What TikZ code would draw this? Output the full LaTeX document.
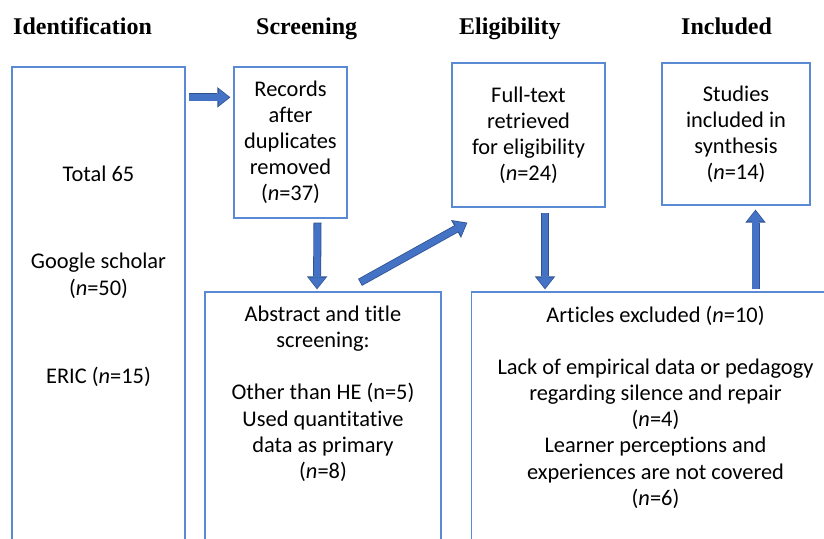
\documentclass[tikz,border=0pt]{standalone}
\usepackage{fontspec}
\setmainfont[Ligatures=NoCommon]{Carlito}
\newfontfamily\headfont{Liberation Serif}
\usepackage{xcolor}
\usetikzlibrary{arrows.meta,positioning}

\definecolor{boxblue}{RGB}{91,138,212}
\definecolor{arrowfill}{RGB}{68,114,196}
\definecolor{arrowedge}{RGB}{47,82,143}

\begin{document}
\begin{tikzpicture}[
        x=1pt, y=-1pt,
        box/.style={rectangle, draw=boxblue, line width=1.3pt, inner sep=0pt, align=center, font=\fontsize{22.4}{26.1}\selectfont},
        head/.style={anchor=base west, inner sep=0pt, font=\headfont\bfseries\fontsize{24}{28}\selectfont},
        txt/.style={inner sep=0pt, align=center, font=\fontsize{22.4}{26.1}\selectfont},
        arrow/.style={draw=arrowfill, line width=6.4pt, shorten >=1.3pt, shorten <=0.8pt,
            -{Triangle[length=10.5pt,width=17pt,line width=0pt]},
            preaction={draw=arrowedge, line width=8pt, shorten >=0pt, shorten <=0pt,
            -{Triangle[length=13pt,width=20.5pt,line width=0pt]}}}
    ]
    \path[use as bounding box, clip] (0,0) rectangle (824,538);

    % Stage headings
    \node[head] (h_ident) at (13,34) {Identification};
    \node[head] (h_screen) at (256,34) {Screening};
    \node[head] (h_elig) at (459,34) {Eligibility};
    \node[head] (h_incl) at (681,34) {Included};

    % Identification
    \node[box, minimum width=173pt, minimum height=493pt] (ident) at (98.5,313.5) {};
    \node[txt, anchor=base] (total) at (98.5,181) {Total 65};
    \node[txt, anchor=base] (google) at (98.5,268) {Google scholar};
    \node[txt, anchor=base] (google_n) at (98.5,295.5) {(\textit{n}=50)};
    \node[txt, anchor=base] (eric) at (98.5,383) {ERIC (\textit{n}=15)};

    % Screening
    \node[box, minimum width=113pt, minimum height=151pt] (recs) at (290.5,142.5)
        {Records\\after\\duplicates\\removed\\(\textit{n}=37)};
    \node[box, minimum width=236pt, minimum height=268pt] (abstract) at (323,426) {};
    \node[txt, anchor=north] (abstract_txt) at ([yshift=-14.5pt]abstract.north)
        {Abstract and title\\screening:\\[26.1pt]Other than HE (n=5)\\Used quant\kern0pt itat\kern0pt ive\\data as primary\\(\textit{n}=8)};

    % Eligibility
    \node[box, minimum width=153pt, minimum height=144pt] (fulltext) at (528.5,135)
        {Full-text\\retrieved\\for eligibility\\(\textit{n}=24)};
    \node[box, minimum width=368pt, minimum height=268pt] (excluded) at (655.5,426) {};
    \node[txt, anchor=north] (excluded_txt) at ([yshift=-14.5pt]excluded.north)
        {Articles excluded (\textit{n}=10)\\[26.1pt]Lack of empirical data or pedagogy\\regarding silence and repair\\(\textit{n}=4)\\Learner perceptions and\\experiences are not covered\\(\textit{n}=6)};

    % Included
    \node[box, minimum width=148pt, minimum height=142pt] (studies) at (736,134)
        {Studies\\included in\\synthesis\\(\textit{n}=14)};

    % Connections
    \draw[arrow] ([xshift=3pt,yshift=-31pt]ident.north east) -- ([xshift=-3pt,yshift=-31pt]recs.north west);
    \draw[arrow] ([xshift=27pt,yshift=-4pt]recs.south) -- ([xshift=-6pt,yshift=2pt]abstract.north);
    \draw[arrow] ([xshift=37pt,yshift=9pt]abstract.north) -- ([xshift=16pt,yshift=-15pt]fulltext.south west);
    \draw[arrow] ([xshift=16.5pt,yshift=-5pt]fulltext.south) -- ([xshift=-110.5pt,yshift=2pt]excluded.north);
    \draw[arrow] ([xshift=100pt,yshift=2pt]excluded.north) -- ([xshift=19.5pt,yshift=-4pt]studies.south);

\end{tikzpicture}
\end{document}
